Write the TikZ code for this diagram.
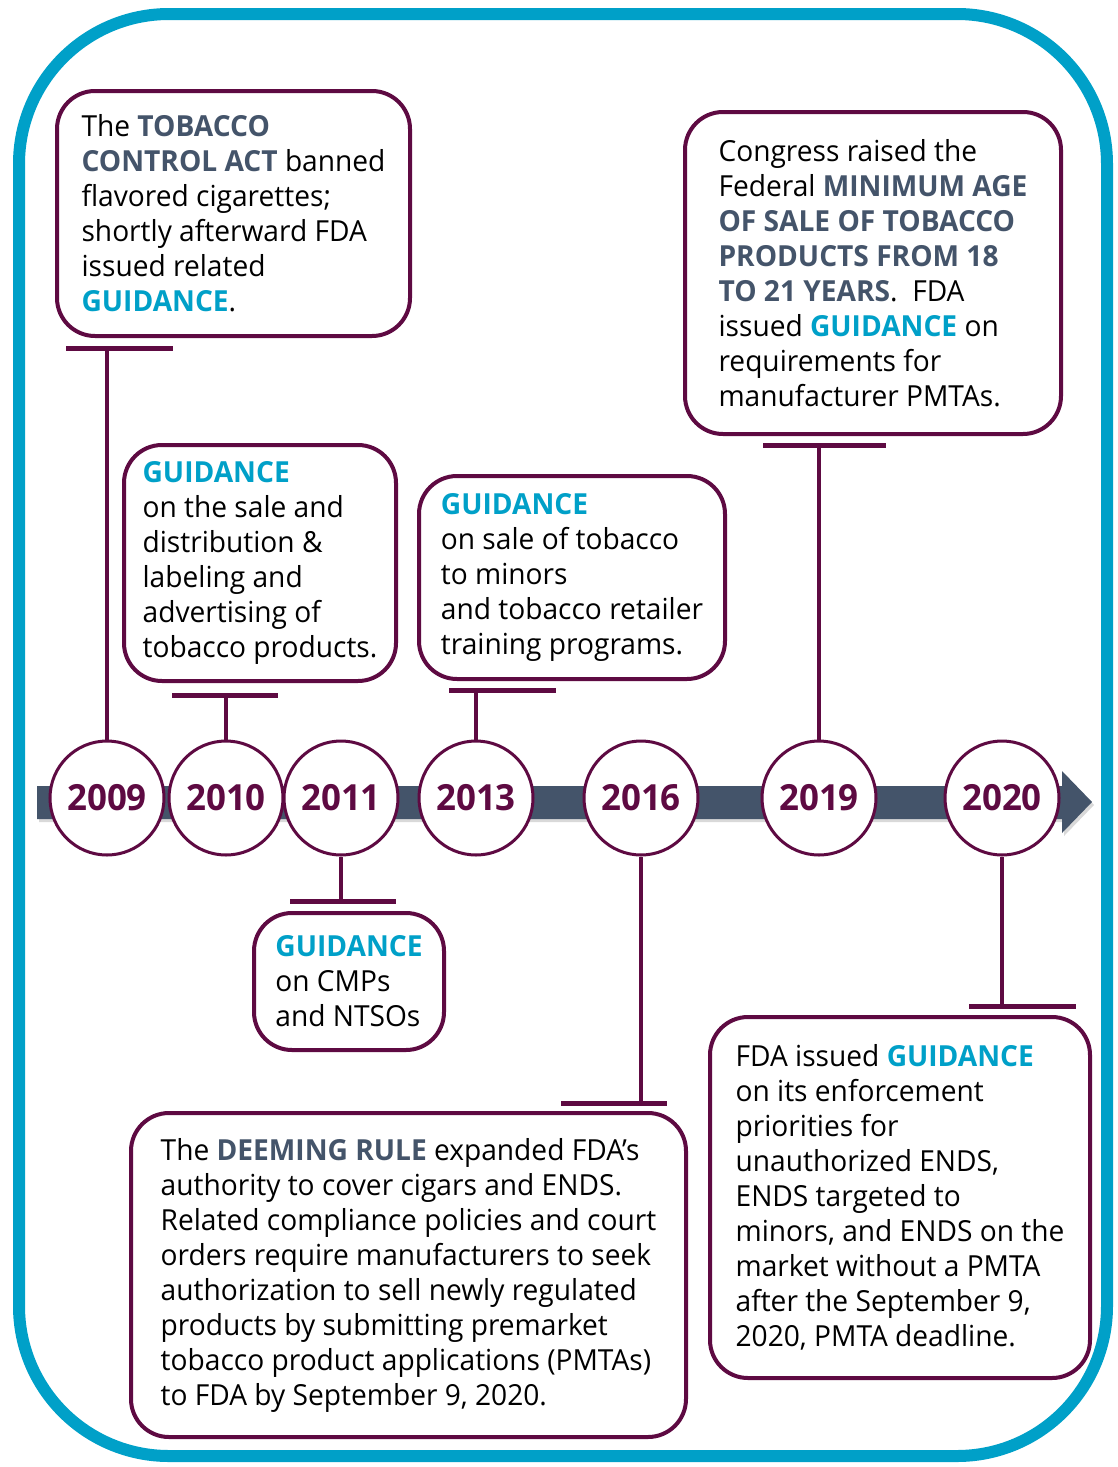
\documentclass[tikz,border=0pt]{standalone}
\usepackage{fontspec}
\setmainfont{Open Sans}[FakeStretch=0.97]
\usetikzlibrary{positioning}

\definecolor{plum}{RGB}{94,10,66}
\definecolor{slate}{RGB}{68,84,106}
\definecolor{aqua}{RGB}{0,160,200}

\newcommand{\guid}{\textbf{\textcolor{aqua}{GUIDANCE}}}
\newcommand{\keyw}[1]{\textbf{\textcolor{slate}{#1}}}

\tikzstyle{frame} = [draw=aqua, line width=12pt, rounded corners=150pt]
\tikzstyle{eventbox} = [rectangle, rounded corners=38pt, draw=plum, line width=4pt, fill=white, anchor=north west, outer sep=0pt, align=left, inner sep=0pt, font=\fontsize{29}{35}\selectfont]
\tikzstyle{yearball} = [circle, draw=plum, line width=3pt, fill=white, minimum size=114pt, inner sep=0pt, text=plum, font=\fontsize{36}{40}\selectfont\bfseries]
\tikzstyle{stem} = [draw=plum, line width=4pt]
\tikzstyle{tbar} = [draw=plum, line width=5pt]
\tikzstyle{timeline} = [fill=slate]

\begin{document}
\begin{tikzpicture}[x=1pt, y=-1pt]

\useasboundingbox (0,0) rectangle (1118,1467);
\draw [frame] (19,14) rectangle (1107,1456);

\fill [black!15] (39,789) -- (1064,789) -- (1064,774) -- (1094,805) -- (1064,836) -- (1064,822) -- (39,822) -- cycle;
\fill [timeline] (37,786) -- (1062,786) -- (1062,771) -- (1092,802) -- (1062,833) -- (1062,819) -- (37,819) -- cycle;

\node (box2009) [eventbox, minimum width=353pt, minimum height=245pt] at (57,91) {The \keyw{TOBACCO}\\ \keyw{CONTROL ACT} banned\\ flavored cigarettes;\\ shortly afterward FDA\\ issued related\\ \guid.};
\node (box2010) [eventbox, minimum width=272pt, minimum height=236pt] at (124,445) {\guid\\ on the sale and\\ distribution \&\\ labeling and\\ advertising of\\ tobacco products.};
\node (box2013) [eventbox, minimum width=306pt, minimum height=203pt] at (419,476) {\guid\\ on sale of tobacco\\ to minors\\ and tobacco retailer\\ training programs.};
\node (box2019) [eventbox, minimum width=376pt, minimum height=322pt] at (685,112) {Congress raised the\\ Federal \keyw{MINIMUM AGE}\\ \keyw{OF SALE OF TOBACCO}\\ \keyw{PRODUCTS FROM 18}\\ \keyw{TO 21 YEARS}.\ \ FDA\\ issued \guid{} on\\ requirements for\\ manufacturer PMTAs.};
\node (box2011) [eventbox, minimum width=190pt, minimum height=137pt] at (254,913) {\guid\\ on CMPs\\ and NTSOs};
\node (box2016) [eventbox, minimum width=555pt, minimum height=324pt] at (131,1113) {The \keyw{DEEMING RULE} expanded FDA’s\\ authority to cover cigars and ENDS.\\ Related compliance policies and court\\ orders require manufacturers to seek\\ authorization to sell newly regulated\\ products by submitting premarket\\ tobacco product applications (PMTAs)\\ to FDA by September 9, 2020.};
\node (box2020) [eventbox, minimum width=380pt, minimum height=361pt] at (710,1017) {FDA issued \guid\\ on its enforcement\\ priorities for\\ unauthorized ENDS,\\ ENDS targeted to\\ minors, and ENDS on the\\ market without a PMTA\\ after the September 9,\\ 2020, PMTA deadline.};

\node (y2009) [yearball] at (107,798) {2009};
\node (y2010) [yearball] at (226,798) {2010};
\node (y2011) [yearball] at (341,798) {2011};
\node (y2013) [yearball] at (476,798) {2013};
\node (y2016) [yearball] at (641,798) {2016};
\node (y2019) [yearball] at (819,798) {2019};
\node (y2020) [yearball] at (1002,798) {2020};

\coordinate (t2009) at (107,348);
\coordinate (t2010) at (226,695);
\coordinate (t2011) at (341,901);
\coordinate (t2013) at (476,690);
\coordinate (t2016) at (641,1103);
\coordinate (t2019) at (819,445);
\coordinate (t2020) at (1002,1006);

\draw [stem] (y2009) -- (t2009);
\draw [stem] (y2010) -- (t2010);
\draw [stem] (y2011) -- (t2011);
\draw [stem] (y2013) -- (t2013);
\draw [stem] (y2016) -- (t2016);
\draw [stem] (y2019) -- (t2019);
\draw [stem] (y2020) -- (t2020);

\draw [tbar] ([xshift=-41pt]t2009) -- ([xshift=66pt]t2009);
\draw [tbar] ([xshift=-54pt]t2010) -- ([xshift=52pt]t2010);
\draw [tbar] ([xshift=-51pt]t2011) -- ([xshift=55pt]t2011);
\draw [tbar] ([xshift=-27pt]t2013) -- ([xshift=80pt]t2013);
\draw [tbar] ([xshift=-80pt]t2016) -- ([xshift=26pt]t2016);
\draw [tbar] ([xshift=-56pt]t2019) -- ([xshift=67pt]t2019);
\draw [tbar] ([xshift=-33pt]t2020) -- ([xshift=74pt]t2020);

\end{tikzpicture}
\end{document}
